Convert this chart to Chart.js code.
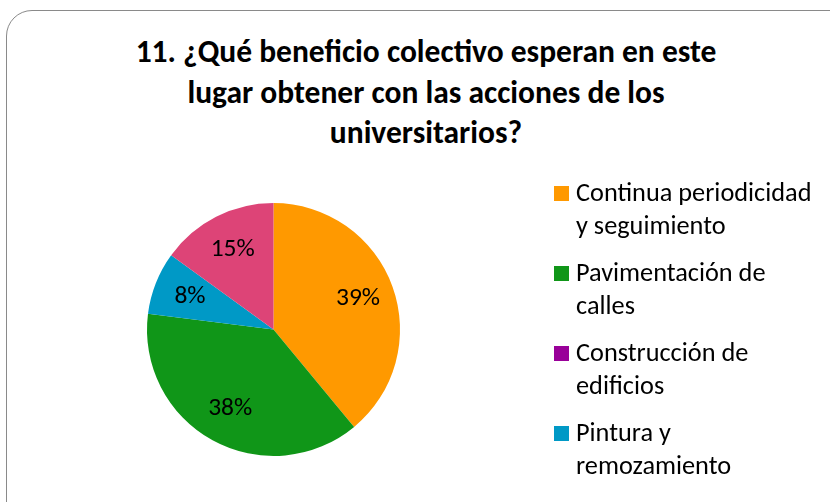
<!DOCTYPE html>
<html lang="es">
<head>
<meta charset="utf-8">
<script src="https://cdn.jsdelivr.net/npm/chart.js@4"></script>
<style>
  html, body { margin:0; padding:0; width:830px; height:502px; overflow:hidden; background:#fff; }
  body { position:relative; font-family: Carlito, Calibri, Lato, "Open Sans", sans-serif; color:#000; }
  .marco { position:absolute; left:6px; top:10px; width:860px; height:520px; border:1.5px solid #8a8a8a; border-radius:26px; box-sizing:border-box; }
  .titulo { position:absolute; left:0; width:852px; top:31px; text-align:center; font-weight:700; font-size:31.5px; line-height:40.5px; }
  .lienzo { position:absolute; left:0; top:0; width:830px; height:502px; }
  .leyenda { position:absolute; left:554px; top:176px; }
  .leyenda .item { position:relative; height:80px; }
  .leyenda .cuadro { position:absolute; left:0; top:10px; width:15px; height:15px; }
  .leyenda .txt { position:absolute; left:22px; top:0; font-size:26.3px; line-height:33px; white-space:nowrap; }
</style>
</head>
<body>
<div class="marco"></div>
<div class="titulo">11. ¿Qué beneficio colectivo esperan en este<br>lugar obtener con las acciones de los<br>universitarios?</div>
<div class="lienzo"><canvas id="grafico"></canvas></div>
<div class="leyenda" id="leyenda"></div>
<script>
/* Pregunta 11 — beneficio colectivo esperado (gráfico circular) */
const CATEGORIAS = ["Continua periodicidad y seguimiento", "Pavimentación de calles", "Construcción de edificios", "Pintura y remozamiento", "Otros"];
const LEYENDA_LINEAS = [["Continua periodicidad", "y seguimiento"], ["Pavimentación de", "calles"], ["Construcción de", "edificios"], ["Pintura y", "remozamiento"]];
const VALORES = [39, 38, 0, 8, 15];
const COLORES = ["#ff9900", "#109618", "#990099", "#0099c6", "#dd4477"];

const el = id => document.getElementById(id);

// leyenda (solo se ven las cuatro primeras entradas, como en el original)
el("leyenda").innerHTML = LEYENDA_LINEAS.map((l, i) =>
  `<div class="item"><span class="cuadro" style="background:${COLORES[i]}"></span><span class="txt">${l.join("<br>")}</span></div>`).join("");

// etiquetas de porcentaje dentro de cada sector
const etiquetas = {
  id: "etiquetas",
  afterDatasetsDraw(chart) {
    const ctx = chart.ctx, meta = chart.getDatasetMeta(0);
    const total = VALORES.reduce((a, b) => a + b, 0);
    ctx.save();
    ctx.font = "25.5px Carlito, Calibri, Lato, sans-serif";
    ctx.fillStyle = "#000";
    ctx.textAlign = "center";
    ctx.textBaseline = "middle";
    meta.data.forEach((arc, i) => {
      if (!VALORES[i]) return;
      const { startAngle, endAngle, outerRadius, x, y } = arc.getProps(["startAngle", "endAngle", "outerRadius", "x", "y"], true);
      const a = (startAngle + endAngle) / 2, r = outerRadius * 0.71;
      ctx.fillText(Math.round(VALORES[i] / total * 100) + "%", x + Math.cos(a) * r, y + Math.sin(a) * r);
    });
    ctx.restore();
  }
};

new Chart(el("grafico"), {
  type: "pie",
  data: { labels: CATEGORIAS, datasets: [{ data: VALORES, backgroundColor: COLORES, borderWidth: 0 }] },
  options: {
    responsive: true, maintainAspectRatio: false, animation: false,
    layout: { padding: { left: 147, top: 203, right: 430, bottom: 46 } },
    plugins: { legend: { display: false }, tooltip: { enabled: false } }
  },
  plugins: [etiquetas]
});
</script>
</body>
</html>
